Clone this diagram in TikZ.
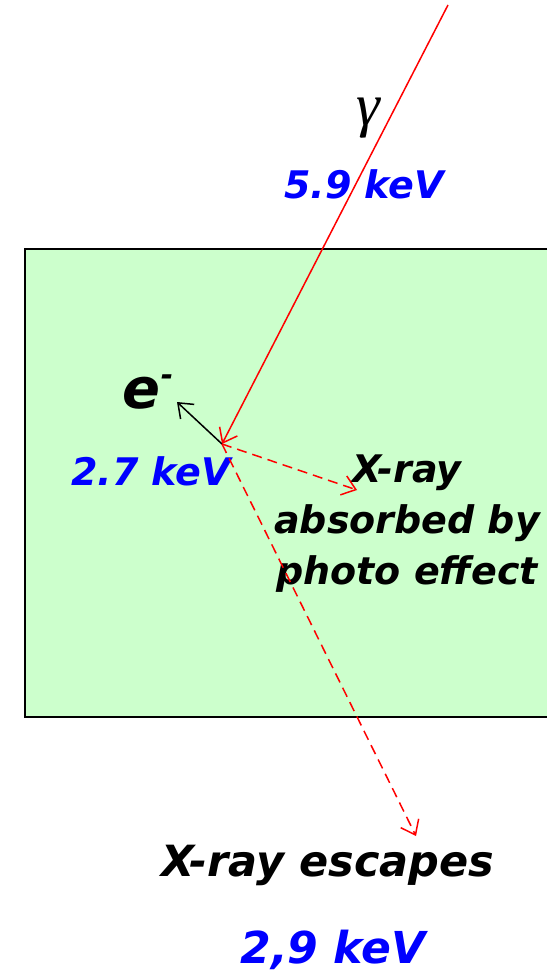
\documentclass[tikz,border=0pt]{standalone}
\usepackage{fontspec}
\setmainfont{DejaVu Sans}
\newfontfamily\symfont{Liberation Serif}
\usetikzlibrary{arrows.meta, positioning}

\definecolor{detgreen}{RGB}{204,255,204}
\definecolor{labelblue}{RGB}{0,0,255}

\begin{document}
\begin{tikzpicture}[
    x=1pt, y=-1pt,
    % Text
    bigtxt/.style={inner sep=0pt, font=\fontsize{38}{51}\selectfont\bfseries\itshape, align=center},
    hugetxt/.style={inner sep=0pt, font=\fontsize{43}{51}\selectfont\bfseries\itshape},
    energy/.style={bigtxt, text=labelblue},
    % Connectors
    ray/.style={draw=red, line width=1.5pt, -{Straight Barb[length=13pt, width=20pt]}},
    xray/.style={ray, dash pattern=on 10pt off 6pt},
    elec/.style={draw=black, line width=1.5pt, -{Straight Barb[length=13pt, width=20pt]}},
]
\useasboundingbox (0,0) rectangle (547,974);

% 1. Detector volume
\fill[detgreen] (25,249) rectangle (547,717);
\draw[line width=1.5pt] (547,249) -| (25,717) -- (547,717);

% 2. Interaction points
\coordinate (src) at (448,5);
\coordinate (hit) at (222,444);
\coordinate (eend) at (177,402);
\coordinate (absend) at (357,490);
\coordinate (escend) at (416,836);

% 3. Labels
\node[inner sep=0pt, font=\fontsize{60}{60}\selectfont\symfont\itshape] (gamma) at (368,118) {γ};
\node[energy] (egamma) at (364,184) {5.9 keV};
\node[inner sep=0pt, font=\fontsize{56}{56}\selectfont\bfseries\itshape] (elabel) at (148,392)
    {e\raisebox{0.42em}{\fontsize{30}{30}\selectfont-}};
\node[energy] (eenergy) at (151,471) {2.7 keV};
\node[bigtxt] (absorbed) at (407,524) {X-ray\\absorbed by\\photo effect};
\node[hugetxt] (escapes) at (328,865) {X-ray escapes};
\node[energy, font=\fontsize{44}{51}\selectfont\bfseries\itshape] (eesc) at (333,950) {2,9 keV};

% Connections
\draw[ray] (src) -- (hit);
\draw[elec] (hit) -- (eend);
\draw[xray] (hit) -- (absend);
\draw[xray] (hit) -- (escend);

\end{tikzpicture}
\end{document}
